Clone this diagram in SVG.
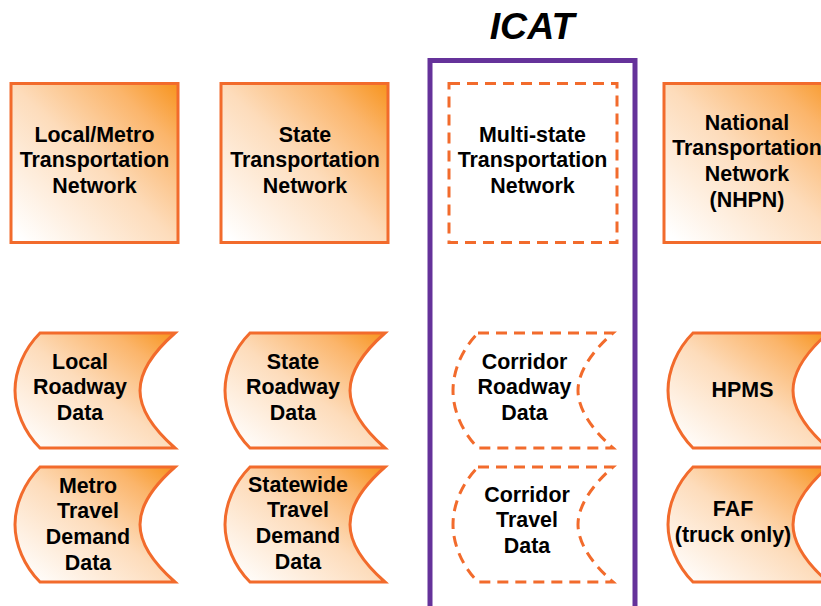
<svg xmlns="http://www.w3.org/2000/svg" width="821" height="606" viewBox="0 0 821 606">
<style>
text{font-family:"Liberation Sans",Arial,sans-serif;font-weight:700;font-size:21.4px;fill:#000;text-anchor:middle}
.t{font-size:37.500px;font-style:italic}
.s{fill:url(#g);stroke:#F26B2C;stroke-width:3}
.d{fill:#fff;stroke:#F26B2C;stroke-width:3;stroke-dasharray:11 7}
</style>
<defs>
<linearGradient id="g" x1="0" y1="1" x2="1" y2="0"><stop offset="0.04" stop-color="#fff"/><stop offset="0.5" stop-color="#FDDCBB"/><stop offset="0.8" stop-color="#FBB56B"/><stop offset="1" stop-color="#F7941D"/></linearGradient>
<path id="data" d="M40,333H175C150,355 140,375 140,390.500C140,406 150,426 175,448H40C24,432 15,410 15,390.500C15,371 24,349 40,333Z"/>
</defs>
<rect width="821" height="606" fill="#fff"/>
<g id="icat"><rect x="430" y="60.500" width="205" height="560" fill="#fff" stroke="#65329A" stroke-width="5"/><text class="t" x="532" y="39">ICAT</text></g>
<g id="local-network"><rect class="s" x="11" y="83.500" width="167" height="159"/><text><tspan x="94.500" y="141.500">Local/Metro</tspan><tspan x="94.500" y="167">Transportation</tspan><tspan x="94.500" y="192.500">Network</tspan></text></g>
<g id="state-network"><rect class="s" x="221" y="83.500" width="167" height="159"/><text><tspan x="305" y="141.500">State</tspan><tspan x="305" y="167">Transportation</tspan><tspan x="305" y="192.500">Network</tspan></text></g>
<g id="multistate-network"><rect class="d" x="449" y="83.500" width="168" height="159"/><text><tspan x="532.500" y="141.500">Multi-state</tspan><tspan x="532.500" y="167">Transportation</tspan><tspan x="532.500" y="192.500">Network</tspan></text></g>
<g id="national-network"><rect class="s" x="664" y="83.500" width="180" height="159"/><text><tspan x="747" y="129.500">National</tspan><tspan x="747" y="155">Transportation</tspan><tspan x="747" y="180.500">Network</tspan><tspan x="747" y="206.500">(NHPN)</tspan></text></g>
<g id="local-roadway"><use href="#data" class="s"/><text><tspan x="80" y="368.500">Local</tspan><tspan x="80" y="394">Roadway</tspan><tspan x="80" y="419.500">Data</tspan></text></g>
<g id="state-roadway"><use href="#data" class="s" x="210"/><text><tspan x="293" y="368.500">State</tspan><tspan x="293" y="394">Roadway</tspan><tspan x="293" y="419.500">Data</tspan></text></g>
<g id="corridor-roadway"><use href="#data" class="d" x="438"/><text><tspan x="524.500" y="368.500">Corridor</tspan><tspan x="524.500" y="394">Roadway</tspan><tspan x="524.500" y="419.500">Data</tspan></text></g>
<g id="hpms"><use href="#data" class="s" x="653"/><text x="742.500" y="397">HPMS</text></g>
<g id="metro-demand"><use href="#data" class="s" y="134"/><text><tspan x="88" y="492.500">Metro</tspan><tspan x="88" y="518">Travel</tspan><tspan x="88" y="544">Demand</tspan><tspan x="88" y="569.500">Data</tspan></text></g>
<g id="statewide-demand"><use href="#data" class="s" x="210" y="134"/><text><tspan x="298" y="491.500">Statewide</tspan><tspan x="298" y="517">Travel</tspan><tspan x="298" y="543">Demand</tspan><tspan x="298" y="568.500">Data</tspan></text></g>
<g id="corridor-travel"><use href="#data" class="d" x="438" y="134"/><text><tspan x="527" y="501.500">Corridor</tspan><tspan x="527" y="527">Travel</tspan><tspan x="527" y="552.500">Data</tspan></text></g>
<g id="faf"><use href="#data" class="s" x="653" y="134"/><text><tspan x="733" y="516">FAF</tspan><tspan x="733" y="541.500">(truck only)</tspan></text></g>
<g id="connectors"/>
</svg>
